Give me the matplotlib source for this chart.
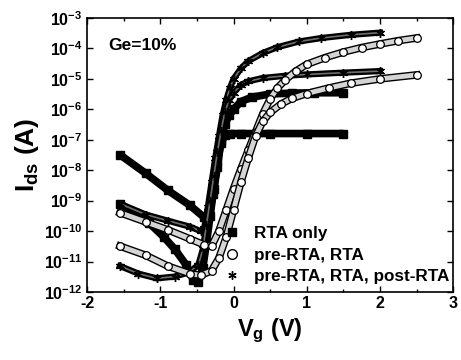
import numpy as np
import matplotlib
matplotlib.use("Agg")
import matplotlib.pyplot as plt
from matplotlib.lines import Line2D

plt.rcParams["font.family"] = ["Liberation Sans", "DejaVu Sans"]
plt.rcParams["font.weight"] = "bold"
plt.rcParams["mathtext.fontset"] = "custom"
plt.rcParams["mathtext.rm"] = "Liberation Sans:bold"
plt.rcParams["mathtext.bf"] = "Liberation Sans:bold"
plt.rcParams["mathtext.it"] = "Liberation Sans:bold"

# Data ------------------------------------------------------------------------
# RTA only (filled squares)
vg_sq_hi = [-1.55, -1.2, -0.9, -0.6, -0.4, -0.33, -0.28, -0.22, -0.17, -0.12,
            -0.06, 0.0, 0.1, 0.25, 0.5, 0.8, 1.1, 1.5]
ids_sq_hi = [3.2e-8, 7.9e-9, 2.2e-9, 7.1e-10, 2.8e-10, 4.0e-10, 1.6e-9, 1.3e-8,
             1.0e-7, 3.2e-7, 6.3e-7, 1.0e-6, 1.8e-6, 2.5e-6, 3.2e-6, 3.4e-6,
             3.5e-6, 3.5e-6]
vg_sq_lo = [-1.55, -1.35, -1.15, -0.95, -0.8, -0.65, -0.55, -0.48, -0.42, -0.37,
            -0.32, -0.27, -0.22, -0.17, -0.12, -0.05, 0.1, 0.5, 1.0, 1.5]
ids_sq_lo = [7.9e-10, 4.0e-10, 1.8e-10, 6.3e-11, 2.5e-11, 7.9e-12, 2.5e-12,
             2.2e-12, 6.3e-12, 4.0e-11, 3.2e-10, 2.5e-9, 2.0e-8, 7.9e-8, 1.4e-7,
             1.6e-7, 1.6e-7, 1.6e-7, 1.6e-7, 1.6e-7]

# pre-RTA, RTA (open circles)
vg_ci_hi = [-1.55, -1.2, -0.9, -0.6, -0.4, -0.3, -0.2, -0.1, 0.0, 0.1, 0.2, 0.3,
            0.4, 0.5, 0.6, 0.7, 0.85, 1.0, 1.25, 1.5, 1.75, 2.0, 2.25, 2.5]
ids_ci_hi = [4.0e-10, 2.0e-10, 1.1e-10, 5.6e-11, 3.5e-11, 3.2e-11, 1.0e-10,
             5.0e-10, 2.5e-9, 1.1e-8, 4.5e-8, 1.8e-7, 7.1e-7, 2.2e-6, 5.0e-6,
             8.9e-6, 1.8e-5, 3.0e-5, 5.0e-5, 7.6e-5, 1.07e-4, 1.4e-4, 1.8e-4,
             2.2e-4]
vg_ci_lo = [-1.55, -1.2, -0.9, -0.6, -0.45, -0.3, -0.2, -0.1, 0.0, 0.1, 0.2, 0.3,
            0.4, 0.5, 0.65, 0.8, 1.0, 1.3, 1.6, 2.0, 2.5]
ids_ci_lo = [3.2e-11, 1.6e-11, 7.1e-12, 4.0e-12, 3.5e-12, 5.0e-12, 1.3e-11,
             6.3e-11, 5.0e-10, 4.0e-9, 2.5e-8, 1.3e-7, 4.0e-7, 7.9e-7, 1.5e-6,
             2.3e-6, 3.3e-6, 5.0e-6, 7.2e-6, 1.0e-5, 1.35e-5]

# pre-RTA, RTA, post-RTA (asterisks)
vg_as_hi = [-1.55, -1.2, -0.9, -0.6, -0.45, -0.4, -0.35, -0.3, -0.25, -0.2, -0.15,
            -0.1, -0.05, 0.0, 0.1, 0.2, 0.4, 0.6, 0.9, 1.2, 1.6, 2.0]
ids_as_hi = [7.9e-10, 3.5e-10, 2.2e-10, 1.4e-10, 1.0e-10, 1.3e-10, 6.3e-10,
             4.0e-9, 2.5e-8, 1.3e-7, 6.3e-7, 2.0e-6, 5.0e-6, 1.0e-5, 2.2e-5,
             3.8e-5, 7.1e-5, 1.1e-4, 1.7e-4, 2.2e-4, 2.8e-4, 3.3e-4]
vg_as_lo = [-1.55, -1.3, -1.05, -0.8, -0.6, -0.48, -0.42, -0.37, -0.32, -0.27,
            -0.22, -0.17, -0.12, -0.06, 0.0, 0.1, 0.2, 0.4, 0.7, 1.0, 1.5, 2.0]
ids_as_lo = [7.1e-12, 4.0e-12, 2.8e-12, 3.2e-12, 4.5e-12, 7.9e-12, 2.5e-11,
             1.6e-10, 1.0e-9, 6.3e-9, 4.0e-8, 2.0e-7, 7.9e-7, 2.0e-6, 3.5e-6,
             6.3e-6, 8.3e-6, 1.07e-5, 1.26e-5, 1.4e-5, 1.6e-5, 1.8e-5]

legend_labels = ["RTA only", "pre-RTA, RTA", "pre-RTA, RTA, post-RTA"]
y_exponents = list(range(-12, -2))
x_ticks = [-2, -1, 0, 1, 2, 3]

# Figure ----------------------------------------------------------------------
fig = plt.figure(figsize=(4.61, 3.6), dpi=100)
ax = fig.add_axes([0.189, 0.189, 0.794, 0.761])
asterisk = (6, 2, 0)

# filled squares
for vg, ids in [(vg_sq_hi, ids_sq_hi), (vg_sq_lo, ids_sq_lo)]:
    ax.plot(vg, ids, "-", color="k", lw=5.5, solid_capstyle="butt", zorder=2)
    ax.plot(vg, ids, "s", color="k", ms=5.5, zorder=2)

# asterisks
for vg, ids in [(vg_as_hi, ids_as_hi), (vg_as_lo, ids_as_lo)]:
    ax.plot(vg, ids, "-", color="k", lw=4.5, zorder=3)
    ax.plot(vg, ids, "-", color="#6e6e6e", lw=1.2, zorder=3)
    ax.plot(vg, ids, ls="none", marker=asterisk, color="k", ms=6.5, mew=1,
            zorder=3)

# open circles
for vg, ids in [(vg_ci_hi, ids_ci_hi), (vg_ci_lo, ids_ci_lo)]:
    ax.plot(vg, ids, "-", color="k", lw=5.5, zorder=4)
    ax.plot(vg, ids, "-", color="#d4d4d4", lw=3.5, zorder=4)
    ax.plot(vg, ids, "o", mfc="white", mec="k", ms=5.5, mew=0.9, zorder=4)

ax.set_yscale("log")
ax.set_xlim(-2, 3)
ax.set_ylim(1e-12, 1e-3)
ax.set_yticks([10.0 ** e for e in y_exponents])
ax.set_yticklabels([r"$\mathbf{10^{%d}}$" % e for e in y_exponents])
ax.set_xticks(x_ticks)
ax.set_xticklabels([str(t) for t in x_ticks])
ax.set_xticks(np.arange(-1.5, 3, 1.0), minor=True)
ax.tick_params(which="both", direction="in", top=True, right=True,
               labelsize=11.5, width=1)
ax.tick_params(which="major", length=4)
ax.tick_params(which="minor", length=2)
ax.tick_params(axis="x", pad=3)
for s in ax.spines.values():
    s.set_linewidth(1.2)

ax.set_xlabel(r"$\mathbf{V_g}$ (V)", fontsize=17, fontweight="bold", labelpad=4)
ax.set_ylabel(r"$\mathbf{I_{ds}}$ (A)", fontsize=19, fontweight="bold",
              labelpad=2)

ax.text(0.058, 0.9, "Ge=10%", transform=ax.transAxes, fontsize=12.5,
        fontweight="bold", va="center")

handles = [
    Line2D([], [], ls="none", marker="s", color="k", ms=6),
    Line2D([], [], ls="none", marker="o", mfc="white", mec="k", ms=7, mew=1),
    Line2D([], [], ls="none", marker=asterisk, color="k", ms=6, mew=1),
]
ax.legend(handles, legend_labels, loc="lower left", bbox_to_anchor=(0.34, -0.01),
          frameon=False, prop=dict(size=12.3, weight="bold"),
          handletextpad=0.7, labelspacing=0.38, borderaxespad=0.2,
          handlelength=1.2)

fig.savefig("out.png", dpi=100)
